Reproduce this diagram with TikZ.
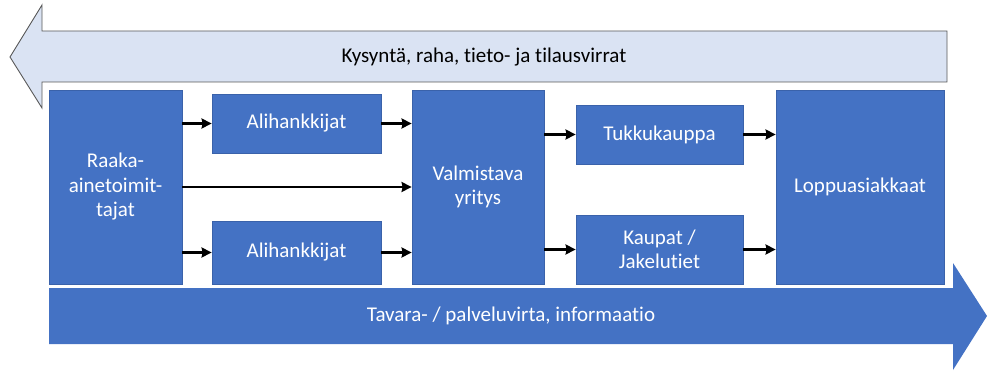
\documentclass[tikz,border=0pt]{standalone}
\usepackage{fontspec}
\setmainfont{Carlito}[Ligatures=NoCommon]
\usetikzlibrary{arrows.meta}
\definecolor{boxblue}{HTML}{4472C4}
\definecolor{boxedge}{HTML}{3A62AA}
\definecolor{paleblue}{HTML}{DAE3F3}
\definecolor{flowedge}{HTML}{595959}
\begin{document}
\begin{tikzpicture}[x=1pt,y=-1pt,
  stage/.style={draw=boxedge,line width=0.8pt,fill=boxblue,text=white,
    align=center,inner sep=0pt,font=\fontsize{21}{24.5}\selectfont},
  link/.style={line width=2.8pt,-{Stealth[length=10pt,width=10pt,inset=1pt]}},
  label/.style={font=\fontsize{21}{24.5}\selectfont}]
\useasboundingbox (0,0) rectangle (987,371);
% backward flow (demand, money, information, orders)
\draw[fill=paleblue,draw=flowedge,line width=0.9pt]
  (10,57) -- (42,5) -- (42,31) -- (947,31) -- (947,82) -- (42,82) -- (42,108) -- cycle;
\node[label] (back) at (484,57) {Kysyntä, raha, tieto- ja tilausvirrat};
% forward flow (goods / services, information)
\fill[boxblue]
  (49,288) -- (953,288) -- (953,263) -- (987,316) -- (953,370) -- (953,344) -- (49,344) -- cycle;
\node[label,text=white] (fwd) at (511,316) {Tavara- / palveluvirta, informaatio};
% supply chain stages
\node[stage,minimum width=133,minimum height=194] (raaka) at (115.5,187) {Raaka-\\ainetoimit-\\tajat};
\node[stage,minimum width=169,minimum height=59] (ali1) at (296.5,123.5) {Alihankkijat};
\node[stage,minimum width=169,minimum height=63] (ali2) at (296.5,252.5) {Alihankkijat};
\node[stage,minimum width=132,minimum height=194] (valm) at (478,187) {Valmistava\\yritys};
\node[stage,minimum width=167,minimum height=59] (tukku) at (659.5,134.5) {Tukkukauppa};
\node[stage,minimum width=167,minimum height=69] (kaupat) at (659.5,249.5) {Kaupat /\\Jakelutiet};
\node[stage,minimum width=168,minimum height=194] (loppu) at (860,187) {Loppuasiakkaat};
% connectors
\draw[link] (raaka.east |- ali1) -- (ali1.west);
\draw[link] (raaka.east) -- (valm.west);
\draw[link] (raaka.east |- ali2) -- (ali2.west);
\draw[link] (ali1.east) -- (valm.west |- ali1);
\draw[link] (ali2.east) -- (valm.west |- ali2);
\draw[link] (valm.east |- tukku) -- (tukku.west);
\draw[link] (valm.east |- kaupat) -- (kaupat.west);
\draw[link] (tukku.east) -- (loppu.west |- tukku);
\draw[link] (kaupat.east) -- (loppu.west |- kaupat);
\end{tikzpicture}
\end{document}
